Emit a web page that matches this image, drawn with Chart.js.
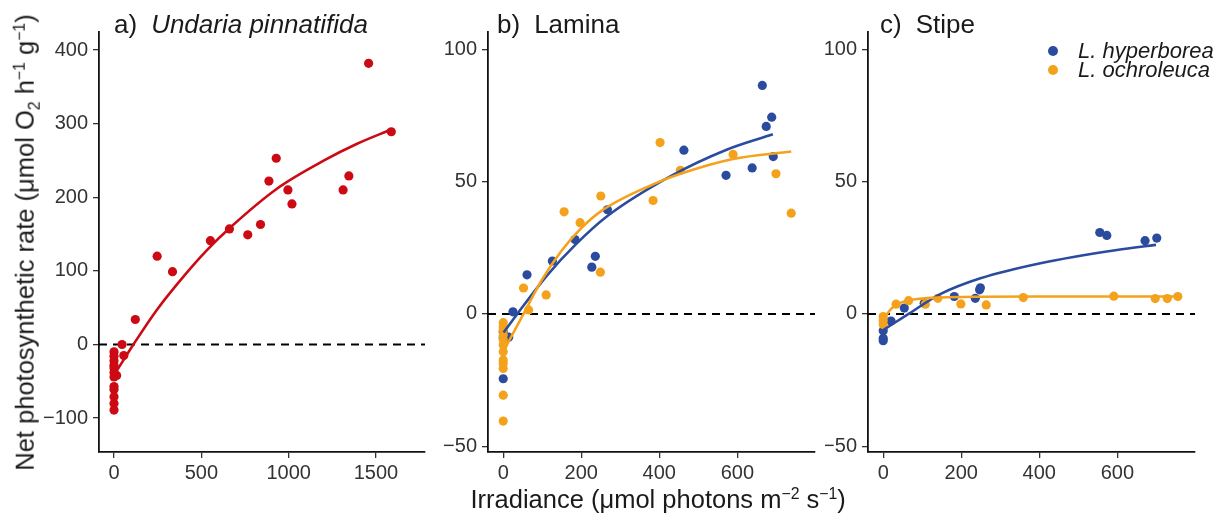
<!DOCTYPE html>
<html>
<head>
<meta charset="utf-8">
<script src="https://cdn.jsdelivr.net/npm/chart.js@4/dist/chart.umd.min.js"></script>
<style>
  html, body { margin:0; padding:0; background:#fff; }
  body { width:1219px; height:514px; position:relative; overflow:hidden;
         font-family:"Liberation Sans", Arial, sans-serif; color:#1a1a1a; }
  .panel { position:absolute; top:0; }
  .ptitle { position:absolute; top:9px; height:30px; line-height:30px; font-size:26px; color:#1a1a1a; white-space:nowrap; }
  .ptitle i { margin-left:14px; }
  .ptitle span { margin-left:14px; }
  .ytitle { position:absolute; font-size:25.5px; white-space:nowrap; color:#1a1a1a;
            transform-origin:center center; }
  .xtitle { position:absolute; font-size:25.5px; white-space:nowrap; color:#1a1a1a; }
  sup, sub { font-size:62%; line-height:0; }
  .leg { position:absolute; font-size:22px; font-style:italic; line-height:20px; white-space:nowrap; color:#1a1a1a; }
  .dot { position:absolute; width:10px; height:10px; border-radius:50%; }
</style>
</head>
<body>
<div class="panel" style="left:40px;"><canvas id="ca" width="395" height="514"></canvas></div>
<div class="panel" style="left:435px;"><canvas id="cb" width="390" height="514"></canvas></div>
<div class="panel" style="left:825px;"><canvas id="cc" width="394" height="514"></canvas></div>

<div class="ptitle" style="left:114px;">a)<i>Undaria pinnatifida</i></div>
<div class="ptitle" style="left:497px;">b)<span>Lamina</span></div>
<div class="ptitle" style="left:880px;">c)<span>Stipe</span></div>

<div id="ytitle" class="ytitle">Net photosynthetic rate (μmol O<sub>2</sub> h<sup>−1</sup> g<sup>−1</sup>)</div>
<div id="xtitle" class="xtitle">Irradiance (μmol photons m<sup>−2</sup> s<sup>−1</sup>)</div>

<div class="dot" style="left:1048px; top:46px; background:#2B4C9E;"></div>
<div class="leg" style="left:1078px; top:41px;">L. hyperborea</div>
<div class="dot" style="left:1048px; top:65px; background:#F4A21C;"></div>
<div class="leg" style="left:1078px; top:60px;">L. ochroleuca</div>

<script>
// ---------- Data ----------
// Panel a: Undaria pinnatifida
const undariaX = [0,0,0,0,0,0,0,0,0,0,0,0, 15, 46, 56, 122, 247, 335, 552, 661, 766, 839, 887, 929, 996, 1019, 1312, 1345, 1458, 1588];
const undariaY = [-10,-16,-22,-28,-32,-38,-44,-57,-61,-71,-80,-89, -42, 0, -15, 34, 120, 99, 141, 157, 149, 163, 222, 253, 210, 191, 210, 229, 382, 289];
const undariaFitX = [12, 111, 245, 418, 531, 661, 935, 1203, 1395, 1586];
const undariaFitY = [-37, 0, 47, 98, 128, 158, 212, 250, 273, 292];

// Panel b: Lamina
const laminaHypX = [0, 0, 0, 14, 25, 61, 126, 184, 227, 236, 267, 463, 571, 638, 664, 674, 688, 692];
const laminaHypY = [-24.5, -6.7, -9, -8.8, 0.8, 14.8, 20, 28.1, 17.7, 21.8, 39.4, 61.9, 52.4, 55.2, 86.4, 70.9, 74.4, 59.5];
const laminaOchX = [0,0,0,0,0,0,0,0,0,0,0,0, 52, 65, 110, 156, 197, 249, 250, 384, 402, 454, 589, 699, 738];
const laminaOchY = [-3.3,-4.8,-8,-9.8,-11.7,-14.3,-17.4,-18.7,-20.6,-30.7,-40.5,-6, 9.8, 1.5, 7.2, 38.6, 34.5, 15.8, 44.6, 42.9, 64.8, 54.3, 60.3, 53, 38.1];
const laminaHypFitX = [1, 36, 112, 184, 267, 428, 571, 691];
const laminaHypFitY = [-7, 0, 14.5, 26, 37, 52, 62, 67.9];
const laminaOchFitX = [1, 52, 99, 150, 197, 250, 384, 454, 589, 738];
const laminaOchFitY = [-14, 0, 12.9, 24, 32, 38.8, 49, 53, 58.6, 61.4];

// Panel c: Stipe
const stipeHypX = [0, 0, 0, 20, 54, 105, 182, 236, 247, 249, 555, 573, 671, 701];
const stipeHypY = [-6.4, -9.2, -10.1, -2.7, 2.2, 4, 6.6, 5.9, 9.1, 9.9, 30.8, 29.7, 27.7, 28.7];
const stipeOchX = [0, 0, 0, 33, 65, 108, 140, 199, 264, 359, 591, 697, 728, 755];
const stipeOchY = [-1, -2.5, -4, 3.7, 5, 3.7, 5.9, 3.8, 3.4, 6.2, 6.7, 5.8, 5.8, 6.6];
const stipeHypFitX = [1, 65, 146, 249, 403, 599, 699];
const stipeHypFitY = [-6, 0, 7.5, 13.5, 19.2, 24.2, 26.1];
const stipeOchFitX = [1, 15, 35, 60, 90, 146, 250, 400, 755];
const stipeOchFitY = [-2.3, 1, 3.6, 5, 5.7, 6.2, 6.5, 6.6, 6.6];

// Ticks and ranges
const xTicksA = [0, 500, 1000, 1500];
const yTicksA = [-100, 0, 100, 200, 300, 400];
const xTicksBC = [0, 200, 400, 600];
const yTicksBC = [-50, 0, 50, 100];
const xRangeA = [-86, 1781];
const yRangeA = [-146, 424.5];
const xRangeBC = [-39, 799];
const yRangeBC = [-52.2, 106.6];

// ---------- Styles ----------
const RED = '#CC0A14', BLUE = '#2B4C9E', ORANGE = '#F4A21C';
const FONT = "'Liberation Sans', Arial, sans-serif";
const TICKCOL = '#333333';

const zip = (xs, ys) => xs.map((x, i) => ({x: x, y: ys[i]}));

function pts(xs, ys, col) {
  return { type:'scatter', data: zip(xs, ys), backgroundColor: col, borderColor: col,
           pointRadius: 4.6, pointBorderWidth: 0, pointHoverRadius: 4.6, showLine:false };
}
function fit(xs, ys, col) {
  return { type:'scatter', data: zip(xs, ys), borderColor: col, backgroundColor: col,
           showLine:true, pointRadius:0, borderWidth:2.6, cubicInterpolationMode:'monotone', fill:false };
}
function zero(range) {
  return { type:'scatter', data: [{x: range[0], y: 0}, {x: range[1], y: 0}], borderColor:'#000',
           showLine:true, pointRadius:0, borderWidth:2, borderDash:[8,6], fill:false };
}

function makePanel(id, yAxisWidth, padRight, xRange, xTicks, yRange, yTicks, datasets) {
  const axisCommon = {
    type:'linear',
    grid: { drawOnChartArea:false, drawTicks:true, tickLength:6, color:'#333', lineWidth:1.3 },
    border: { display:true, color:'#111', width:1.8 },
    ticks: { font: { family: FONT, size: 20 }, color: TICKCOL, maxRotation:0, autoSkip:false,
             callback: v => (v < 0 ? '\u2212' + Math.abs(v) : String(v)) }
  };
  new Chart(document.getElementById(id), {
    type:'scatter',
    data: { datasets: datasets },
    options: {
      responsive:false, animation:false, devicePixelRatio:1, events:[],
      layout: { padding: { top:32, right:padRight, left:0, bottom:0 } },
      plugins: { legend: { display:false }, tooltip: { enabled:false } },
      scales: {
        x: Object.assign({}, axisCommon, {
          min: xRange[0], max: xRange[1],
          ticks: Object.assign({}, axisCommon.ticks, { padding: 3 }),
          afterBuildTicks: s => { s.ticks = xTicks.map(v => ({value:v})); },
          afterFit: s => { s.height = 62; }
        }),
        y: Object.assign({}, axisCommon, {
          min: yRange[0], max: yRange[1],
          ticks: Object.assign({}, axisCommon.ticks, { padding: 5 }),
          afterBuildTicks: s => { s.ticks = yTicks.map(v => ({value:v})); },
          afterFit: s => { s.width = yAxisWidth; }
        })
      }
    }
  });
}

makePanel('ca', 59, 10, xRangeA, xTicksA, yRangeA, yTicksA, [
  fit(undariaFitX, undariaFitY, RED),
  pts(undariaX, undariaY, RED),
  zero(xRangeA)
]);
makePanel('cb', 53, 10, xRangeBC, xTicksBC, yRangeBC, yTicksBC, [
  fit(laminaOchFitX, laminaOchFitY, ORANGE),
  fit(laminaHypFitX, laminaHypFitY, BLUE),
  pts(laminaOchX, laminaOchY, ORANGE),
  pts(laminaHypX, laminaHypY, BLUE),
  zero(xRangeBC)
]);
makePanel('cc', 43, 24, xRangeBC, xTicksBC, yRangeBC, yTicksBC, [
  fit(stipeOchFitX, stipeOchFitY, ORANGE),
  fit(stipeHypFitX, stipeHypFitY, BLUE),
  pts(stipeOchX, stipeOchY, ORANGE),
  pts(stipeHypX, stipeHypY, BLUE),
  zero(xRangeBC)
]);

// axis titles positioning (centered)
const yt = document.getElementById('ytitle');
const yw = yt.offsetWidth, yh = yt.offsetHeight;
yt.style.left = (25 - yw / 2) + 'px';
yt.style.top = (242 - yh / 2) + 'px';
yt.style.transform = 'rotate(-90deg)';
const xt = document.getElementById('xtitle');
xt.style.left = (658 - xt.offsetWidth / 2) + 'px';
xt.style.top = (499 - xt.offsetHeight / 2) + 'px';
</script>
</body>
</html>
